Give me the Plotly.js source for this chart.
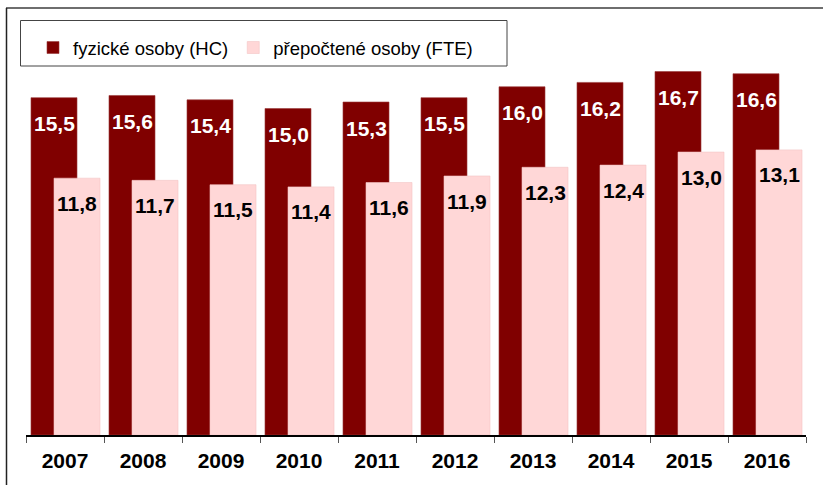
<!DOCTYPE html>
<html>
<head>
<meta charset="utf-8">
<script src="https://cdn.plot.ly/plotly-3.0.1.min.js"></script>
<style>
  body { margin: 0; background: #fff; }
  #chart { width: 823px; height: 485px; }
</style>
</head>
<body>
<div id="chart"></div>
<script>
var years = ["2007", "2008", "2009", "2010", "2011", "2012", "2013", "2014", "2015", "2016"];
var hc = [15.5, 15.6, 15.4, 15.0, 15.3, 15.5, 16.0, 16.2, 16.7, 16.6];
var fte = [11.8, 11.7, 11.5, 11.4, 11.6, 11.9, 12.3, 12.4, 13.0, 13.1];
var hcName = "fyzické osoby (HC)";
var fteName = "přepočtené osoby (FTE)";

// plot area in px
var W = 823, H = 485;
var ml = 26, mr = 17, mt = 65, mb = 50;
var pw = W - ml - mr, ph = H - mt - mb;
function px(x) { return (x - ml) / pw; }
function py(y) { return (H - mb - y) / ph; }

function fmt(v) { return v.toFixed(1).replace(".", ","); }

var font = "Arial, 'Liberation Sans', sans-serif";

// bars overlap: dark one to the left, pink one shifted right
var barW = 0.59;
var off1 = -0.436, off2 = -0.141;

var trace1 = {
  x: years,
  y: hc,
  type: "bar",
  name: hcName,
  offset: off1,
  width: barW,
  marker: { color: "#800000", line: { color: "#9a3a3a", width: 0.6 } },
  hoverinfo: "x+y"
};
var trace2 = {
  x: years,
  y: fte,
  type: "bar",
  name: fteName,
  offset: off2,
  width: barW,
  marker: { color: "#ffd7d7", line: { color: "#f3c4c4", width: 0.6 } },
  hoverinfo: "x+y"
};

// value labels, annotation x on a category axis is the category index
var annotations = [];
for (var i = 0; i < years.length; i++) {
  annotations.push({
    x: i + off1 + barW / 2, y: hc[i], xref: "x", yref: "y",
    text: fmt(hc[i]), showarrow: false,
    yshift: -26, yanchor: "middle",
    font: { family: font, size: 21, color: "#ffffff", weight: "bold" }
  });
  annotations.push({
    x: i + off2 + barW / 2, y: fte[i], xref: "x", yref: "y",
    text: fmt(fte[i]), showarrow: false,
    yshift: -25, yanchor: "middle",
    font: { family: font, size: 21, color: "#000000", weight: "bold" }
  });
}

var layout = {
  width: W,
  height: H,
  margin: { l: ml, r: mr, t: mt, b: mb },
  paper_bgcolor: "#ffffff",
  plot_bgcolor: "#ffffff",
  barmode: "overlay",
  showlegend: true,
  font: { family: font, color: "#000" },
  legend: {
    orientation: "h",
    x: px(33), y: py(29),
    xanchor: "left", yanchor: "top",
    bgcolor: "rgba(0,0,0,0)",
    font: { family: font, size: 18.5, color: "#000" },
    traceorder: "normal"
  },
  xaxis: {
    type: "category",
    range: [-0.5, 9.5],
    showline: true,
    linecolor: "#000",
    linewidth: 1.5,
    ticks: "outside",
    tickson: "boundaries",
    ticklen: 6,
    tickcolor: "#555",
    tickwidth: 1,
    ticklabelstandoff: 6,
    tickfont: { family: font, size: 21, color: "#000", weight: "bold" },
    showgrid: false,
    zeroline: false,
    fixedrange: true
  },
  yaxis: {
    range: [0, 17],
    visible: false,
    showgrid: false,
    zeroline: false,
    fixedrange: true
  },
  annotations: annotations,
  shapes: [
    { type: "line", xref: "paper", yref: "paper", x0: px(6), x1: px(823), y0: py(8), y1: py(8),
      line: { color: "#6e6e6e", width: 2 } },
    { type: "line", xref: "paper", yref: "paper", x0: px(6.5), x1: px(6.5), y0: py(8), y1: py(485),
      line: { color: "#222", width: 1.5 } },
    { type: "rect", xref: "paper", yref: "paper", x0: px(20.5), x1: px(507), y0: py(20.5), y1: py(66),
      line: { color: "#444", width: 1 } }
  ]
};

Plotly.newPlot("chart", [trace1, trace2], layout, { displayModeBar: false, staticPlot: true });
</script>
</body>
</html>
